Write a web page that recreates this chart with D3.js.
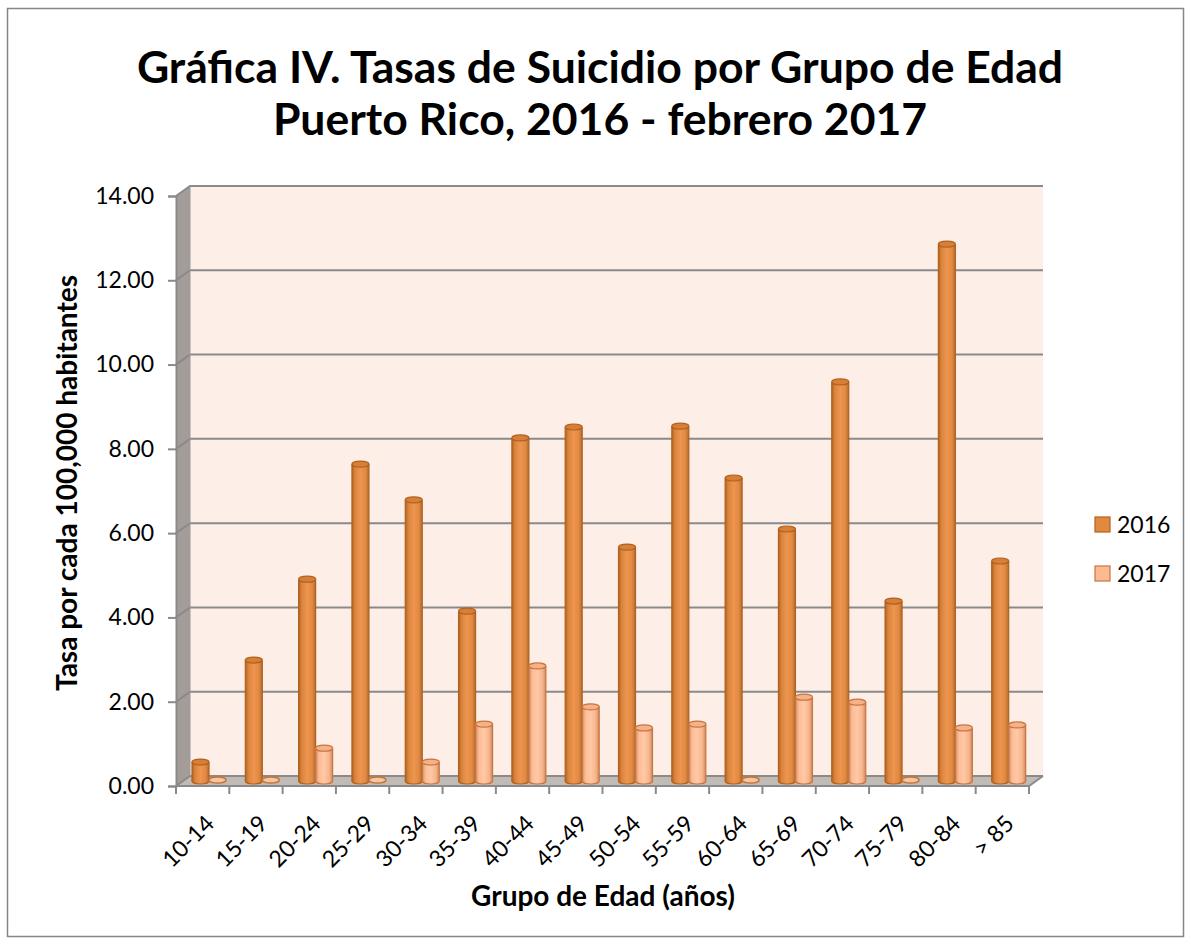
<!DOCTYPE html>
<html>
<head>
    <meta charset="utf-8">
    <title>Tasas de Suicidio por Grupo de Edad</title>
    <script src="https://cdn.jsdelivr.net/npm/d3@7"></script>
    <style>
        body { margin: 0; background: #fff; }
        svg text { font-family: Lato, "Open Sans", sans-serif; fill: #000; }
    </style>
</head>
<body>
<div id="chart"></div>
<script>
    // data
    const groups = ["10-14", "15-19", "20-24", "25-29", "30-34", "35-39", "40-44", "45-49",
        "50-54", "55-59", "60-64", "65-69", "70-74", "75-79", "80-84", "> 85"];
    const years = ["2016", "2017"];
    const rates2016 = [0.45, 2.87, 4.79, 7.52, 6.67, 4.03, 8.14, 8.40, 5.55, 8.42, 7.19, 5.98, 9.47, 4.27, 12.74, 5.22];
    const rates2017 = [0, 0, 0.78, 0, 0.45, 1.35, 2.73, 1.76, 1.26, 1.35, 0, 1.99, 1.87, 0, 1.26, 1.33];
    const yTicks = [0, 2, 4, 6, 8, 10, 12, 14];

    const W = 1191, H = 944;
    const svg = d3.select("#chart").append("svg").attr("width", W).attr("height", H);

    svg.append("rect").attr("x", 7.5).attr("y", 8.5).attr("width", 1176).attr("height", 928)
        .attr("fill", "#fff").attr("stroke", "#878787").attr("stroke-width", 1.5);

    // 3d frame: front plane and the depth offset of the back wall
    const front = { x0: 176, x1: 1029, y0: 786, y1: 196 };
    const dx = 14, dy = -10;

    const x = d3.scaleBand().domain(groups).range([front.x0, front.x1]);
    const xs = d3.scaleBand().domain(years).range([16, 50]);
    const yFront = d3.scaleLinear().domain([0, 14]).range([front.y0, front.y1]);
    const yBar = d3.scaleLinear().domain([0, 14]).range([front.y0 - 5, front.y1 - 5]);

    const defs = svg.append("defs");
    function cylGrad(id, stops) {
        const g = defs.append("linearGradient").attr("id", id)
            .attr("x1", "0%").attr("x2", "100%").attr("y1", "0%").attr("y2", "0%");
        stops.forEach(s => g.append("stop").attr("offset", s[0]).attr("stop-color", s[1]));
    }
    cylGrad("g2016", [["0%", "#b4611f"], ["18%", "#d9843d"], ["50%", "#ee9550"], ["80%", "#e08a43"], ["100%", "#b96a29"]]);
    cylGrad("g2017", [["0%", "#d28a62"], ["20%", "#fdbd96"], ["50%", "#ffc8a5"], ["80%", "#f6b58c"], ["100%", "#cf8a60"]]);

    const style = {
        "2016": { grad: "url(#g2016)", top: "#d77f37", stroke: "#b0621f", key: "#e0893f" },
        "2017": { grad: "url(#g2017)", top: "#f7b189", stroke: "#c8763f", key: "#fdba92" }
    };

    // left side wall
    svg.append("polygon")
        .attr("points", [[front.x0, front.y0], [front.x0 + dx, front.y0 + dy], [front.x0 + dx, front.y1 + dy], [front.x0, front.y1]].join(" "))
        .attr("fill", "#a39c98");
    // floor
    svg.append("polygon")
        .attr("points", [[front.x0, front.y0], [front.x0 + dx, front.y0 + dy], [front.x1 + dx, front.y0 + dy], [front.x1, front.y0]].join(" "))
        .attr("fill", "#c2bab5");
    // back wall
    svg.append("rect")
        .attr("x", front.x0 + dx).attr("y", front.y1 + dy)
        .attr("width", front.x1 - front.x0).attr("height", front.y0 - front.y1)
        .attr("fill", "#fdeee7");

    // gridlines on back wall and side wall
    const grid = svg.append("g").attr("stroke", "#8a8a8a").attr("stroke-width", 2).attr("fill", "none");
    yTicks.forEach(t => {
        const yy = yFront(t);
        grid.append("polyline")
            .attr("points", [[front.x0, yy], [front.x0 + dx, yy + dy], [front.x1 + dx, yy + dy]].join(" "));
    });
    grid.append("line").attr("x1", front.x0 + dx).attr("x2", front.x0 + dx)
        .attr("y1", front.y1 + dy).attr("y2", front.y0 + dy).attr("stroke", "#9a9a9a").attr("stroke-width", 1);
    grid.append("polyline")
        .attr("points", [[front.x0, front.y0], [front.x1, front.y0], [front.x1 + dx, front.y0 + dy]].join(" "));

    // value axis
    const yAxis = svg.append("g").attr("transform", `translate(${front.x0},0)`)
        .call(d3.axisLeft(yFront).tickValues(yTicks).tickFormat(d3.format(".2f")).tickSize(8).tickPadding(14));
    yAxis.select(".domain").attr("stroke", "#8a8a8a").attr("stroke-width", 2);
    yAxis.selectAll(".tick line").attr("stroke", "#8a8a8a").attr("stroke-width", 2);
    yAxis.selectAll(".tick text").attr("font-size", 23).attr("fill", "#000");

    // category axis
    const xAxis = svg.append("g").attr("transform", `translate(0,${front.y0})`);
    xAxis.selectAll("line").data(groups.concat([null])).join("line")
        .attr("x1", (d, i) => front.x0 + i * x.bandwidth())
        .attr("x2", (d, i) => front.x0 + i * x.bandwidth())
        .attr("y1", 0).attr("y2", 8)
        .attr("stroke", "#8a8a8a").attr("stroke-width", 2);
    xAxis.selectAll("text").data(groups).join("text")
        .attr("text-anchor", "end")
        .attr("font-size", 23)
        .attr("transform", d => `translate(${x(d) + x.bandwidth() / 2 + 13},${39}) rotate(-45)`)
        .text(d => d);

    // cylinders
    const rows = groups.map((g, i) => ({ group: g, values: [rates2016[i], rates2017[i]] }));
    const bars = svg.append("g");
    rows.forEach(r => {
        years.forEach((yr, j) => {
            const v = r.values[j];
            const bx = x(r.group) + xs(yr);
            const bw = xs.bandwidth();
            const cx = bx + bw / 2;
            const base = yBar(0);
            const top = yBar(v);
            const ry = 3;
            const s = style[yr];
            const g = bars.append("g");
            if (v === 0) {
                g.append("ellipse").attr("cx", cx).attr("cy", base - 1).attr("rx", bw / 2).attr("ry", ry)
                    .attr("fill", "#f3c7a6").attr("stroke", "#c87533").attr("stroke-width", 1.5);
                return;
            }
            g.append("ellipse").attr("cx", cx).attr("cy", base).attr("rx", bw / 2).attr("ry", ry)
                .attr("fill", s.grad).attr("stroke", s.stroke).attr("stroke-width", 1.2);
            g.append("rect").attr("x", bx).attr("y", top).attr("width", bw).attr("height", base - top)
                .attr("fill", s.grad);
            g.append("line").attr("x1", bx).attr("x2", bx).attr("y1", top).attr("y2", base)
                .attr("stroke", s.stroke).attr("stroke-width", 1.2);
            g.append("line").attr("x1", bx + bw).attr("x2", bx + bw).attr("y1", top).attr("y2", base)
                .attr("stroke", s.stroke).attr("stroke-width", 1.2);
            g.append("ellipse").attr("cx", cx).attr("cy", top).attr("rx", bw / 2).attr("ry", ry)
                .attr("fill", s.top).attr("stroke", s.stroke).attr("stroke-width", 1.2);
        });
    });

    // legend
    const legend = svg.append("g").attr("transform", "translate(1095,517)");
    years.forEach((yr, i) => {
        const row = legend.append("g").attr("transform", `translate(0,${i * 49})`);
        row.append("rect").attr("width", 15).attr("height", 15)
            .attr("fill", style[yr].key).attr("stroke", style[yr].stroke).attr("stroke-width", 1.2);
        row.append("text").attr("x", 22).attr("y", 16).attr("font-size", 23).text(yr);
    });

    // titles
    const title = svg.append("text").attr("text-anchor", "middle").attr("font-weight", "bold").attr("font-size", 44.5);
    title.append("tspan").attr("x", 600).attr("y", 83).text("Gráfica IV. Tasas de Suicidio por Grupo de Edad");
    title.append("tspan").attr("x", 600).attr("y", 135).text("Puerto Rico, 2016 - febrero 2017");

    svg.append("text").attr("text-anchor", "middle").attr("font-weight", "bold").attr("font-size", 28)
        .attr("transform", "translate(77,483) rotate(-90)")
        .text("Tasa por cada 100,000 habitantes");

    svg.append("text").attr("text-anchor", "middle").attr("font-weight", "bold").attr("font-size", 28)
        .attr("x", 603).attr("y", 906)
        .text("Grupo de Edad (años)");
</script>
</body>
</html>
